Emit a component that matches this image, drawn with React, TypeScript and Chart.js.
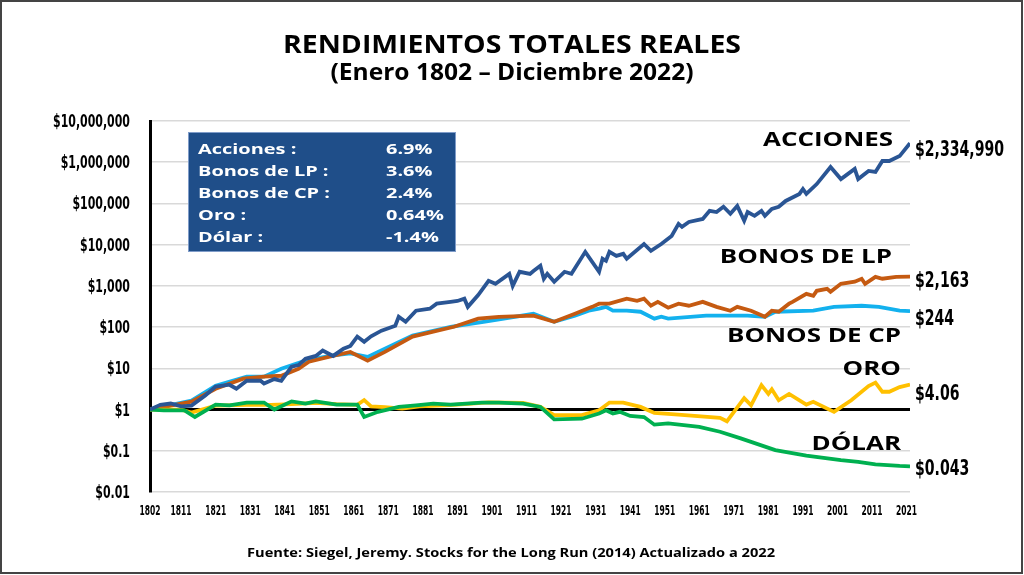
import React, { useEffect, useRef } from "react";
import { Chart, registerables } from "chart.js";

Chart.register(...registerables);

// ---------- DATA ----------
const stockYears = [1802, 1805, 1808, 1811, 1814, 1818, 1821, 1825, 1827, 1830, 1834, 1835, 1838, 1840, 1843, 1845, 1847, 1850, 1852, 1855, 1858, 1860, 1862, 1864, 1866, 1869, 1873, 1874, 1876, 1879, 1883, 1885, 1889, 1891, 1893, 1894, 1897, 1900, 1902, 1906, 1907, 1909, 1912, 1913, 1915, 1916, 1917, 1919, 1922, 1924, 1928, 1932, 1933, 1934, 1935, 1937, 1939, 1940, 1945, 1947, 1950, 1953, 1955, 1956, 1958, 1962, 1964, 1966, 1968, 1970, 1972, 1974, 1975, 1977, 1979, 1980, 1982, 1984, 1986, 1990, 1991, 1992, 1995, 1999, 2002, 2006, 2007, 2010, 2012, 2014, 2016, 2019, 2022];
const stockValues = [1, 1.3, 1.4, 1.2, 1.25, 2.2, 3.6, 4.0, 3.2, 5.0, 5.0, 4.3, 5.5, 5.0, 11, 12, 17, 20, 27, 20, 30, 35, 59, 44, 60, 82, 108, 178, 135, 250, 280, 370, 410, 430, 490, 310, 600, 1330, 1120, 1960, 1000, 2200, 1960, 2300, 3080, 1490, 1960, 1260, 2200, 1960, 6700, 2200, 4550, 4060, 6700, 5350, 6000, 4550, 10400, 7100, 10400, 16300, 31900, 27000, 35600, 42000, 66000, 62000, 83000, 56000, 87000, 38000, 62000, 50000, 66000, 50000, 74000, 83000, 115000, 170000, 224000, 170000, 295000, 764000, 390000, 690000, 390000, 614000, 580000, 1070000, 1070000, 1410000, 2900000];

const longBondYears = [1802, 1808, 1814, 1821, 1829, 1835, 1840, 1845, 1848, 1854, 1860, 1865, 1870, 1878, 1884, 1890, 1897, 1903, 1913, 1919, 1925, 1930, 1932, 1935, 1940, 1943, 1945, 1947, 1949, 1952, 1955, 1958, 1962, 1966, 1970, 1972, 1976, 1980, 1982, 1984, 1987, 1988, 1992, 1994, 1995, 1998, 1999, 2002, 2006, 2008, 2009, 2012, 2014, 2018, 2022];
const longBondValues = [1, 1.25, 1.56, 3.2, 5.6, 6.3, 6.6, 9.8, 14.5, 19.2, 25, 15.4, 25, 59, 78, 102, 160, 178, 190, 135, 210, 310, 370, 370, 490, 436, 490, 330, 410, 295, 370, 330, 410, 310, 250, 310, 250, 178, 250, 236, 370, 410, 640, 575, 760, 850, 720, 1120, 1260, 1490, 1120, 1660, 1490, 1660, 1680];

const shortBondYears = [1802, 1814, 1821, 1830, 1835, 1840, 1847, 1854, 1860, 1865, 1870, 1878, 1889, 1899, 1913, 1919, 1925, 1929, 1932, 1934, 1936, 1940, 1944, 1948, 1950, 1952, 1963, 1975, 1980, 1983, 1994, 2000, 2008, 2013, 2019, 2022];
const shortBondValues = [1, 1.65, 3.8, 6.3, 6.3, 9.8, 15.4, 20, 23, 19, 30, 62, 102, 135, 210, 135, 190, 250, 280, 310, 250, 250, 236, 160, 178, 160, 190, 190, 178, 236, 250, 310, 330, 310, 250, 244];

const goldYears = [1802, 1806, 1811, 1814, 1821, 1830, 1837, 1843, 1850, 1856, 1862, 1864, 1866, 1870, 1875, 1880, 1890, 1900, 1910, 1915, 1919, 1927, 1932, 1935, 1939, 1944, 1948, 1954, 1967, 1969, 1974, 1976, 1979, 1981, 1982, 1984, 1987, 1992, 1994, 2000, 2005, 2010, 2012, 2014, 2016, 2019, 2022];
const goldValues = [1, 1.0, 1.0, 0.85, 1.25, 1.3, 1.3, 1.35, 1.45, 1.35, 1.3, 1.7, 1.2, 1.15, 1.05, 1.2, 1.3, 1.5, 1.45, 1.16, 0.73, 0.73, 0.96, 1.48, 1.48, 1.16, 0.83, 0.76, 0.63, 0.52, 1.9, 1.27, 3.9, 2.4, 3.1, 1.68, 2.4, 1.32, 1.54, 0.88, 1.68, 3.7, 4.5, 2.7, 2.7, 3.5, 4.06];

const dollarYears = [1802, 1806, 1812, 1815, 1821, 1825, 1830, 1835, 1838, 1843, 1847, 1850, 1856, 1862, 1864, 1868, 1874, 1879, 1884, 1889, 1898, 1903, 1910, 1915, 1919, 1927, 1932, 1934, 1936, 1938, 1941, 1945, 1948, 1952, 1961, 1967, 1973, 1983, 1992, 2002, 2007, 2012, 2019, 2022];
const dollarValues = [1, 0.96, 0.96, 0.66, 1.32, 1.27, 1.48, 1.48, 1.0, 1.58, 1.4, 1.58, 1.32, 1.32, 0.66, 0.88, 1.16, 1.27, 1.4, 1.32, 1.48, 1.48, 1.4, 1.16, 0.58, 0.6, 0.8, 0.96, 0.8, 0.88, 0.7, 0.66, 0.43, 0.46, 0.38, 0.29, 0.2, 0.104, 0.076, 0.059, 0.054, 0.047, 0.043, 0.042];

const xTickYears = [1802, 1811, 1821, 1831, 1841, 1851, 1861, 1871, 1881, 1891, 1901, 1911, 1921, 1931, 1941, 1951, 1961, 1971, 1981, 1991, 2001, 2011, 2021];
const yTickValues = [0.01, 0.1, 1, 10, 100, 1000, 10000, 100000, 1000000, 10000000];

const summaryLabels = ["Acciones :", "Bonos de LP :", "Bonos de CP :", "Oro :", "Dólar :"];
const summaryRates = ["6.9%", "3.6%", "2.4%", "0.64%", "-1.4%"];
const seriesNames = ["ACCIONES", "BONOS DE LP", "BONOS DE CP", "ORO", "DÓLAR"];
const endLabels = ["$2,334,990", "$2,163", "$244", "$4.06", "$0.043"];

const titleText = "RENDIMIENTOS TOTALES REALES";
const subtitleText = "(Enero 1802 – Diciembre 2022)";
const sourceText = "Fuente: Siegel, Jeremy. Stocks for the Long Run (2014) Actualizado a 2022";

// ---------- STYLE ----------
const COLORS = {
  stocks: "#2a5594",
  longBond: "#c55a11",
  shortBond: "#13b1ee",
  gold: "#ffc000",
  dollar: "#00b050",
  box: "#1f4e89",
};
const SANS = "'Open Sans', 'Noto Sans', sans-serif";
const NARROW = "'Liberation Sans Narrow', 'DejaVu Sans Condensed', 'Roboto', sans-serif";

const toPoints = (xs: number[], ys: number[]) => xs.map((x, i) => ({ x, y: ys[i] }));

const fmtMoney = (n: number) => (n >= 1 ? "$" + n.toLocaleString("en-US") : "$" + String(n));

function drawScaled(ctx: CanvasRenderingContext2D, text: string, x: number, y: number, s: number, align: CanvasTextAlign) {
  ctx.save();
  ctx.translate(x, y);
  ctx.scale(s, 1);
  ctx.textAlign = align;
  ctx.fillText(text, 0, 0);
  ctx.restore();
}
function scaleFor(ctx: CanvasRenderingContext2D, text: string, width: number) {
  return width / ctx.measureText(text).width;
}

const annotationPlugin = {
  id: "annotations",
  afterDraw(chart: any) {
    const ctx: CanvasRenderingContext2D = chart.ctx;
    const xs = chart.scales.x;
    const ys = chart.scales.y;
    ctx.save();
    ctx.textBaseline = "alphabetic";
    ctx.fillStyle = "#000";

    // Axis tick labels (condensed)
    ctx.font = `bold 18px ${NARROW}`;
    const sY = scaleFor(ctx, "$10,000,000", 77);
    yTickValues.forEach((v) => {
      drawScaled(ctx, fmtMoney(v), 130, ys.getPixelForValue(v) + 6, sY, "right");
    });
    ctx.font = `bold 14px ${NARROW}`;
    const sX = scaleFor(ctx, "1802", 21);
    xTickYears.forEach((v) => {
      drawScaled(ctx, String(v), xs.getPixelForValue(v), 515, sX, "center");
    });

    // Title
    ctx.font = `bold 25px ${SANS}`;
    drawScaled(ctx, titleText, 512, 53, scaleFor(ctx, titleText, 458), "center");
    ctx.font = `bold 24px ${SANS}`;
    drawScaled(ctx, subtitleText, 512, 80, scaleFor(ctx, subtitleText, 363), "center");

    // Summary box
    ctx.fillStyle = COLORS.box;
    ctx.fillRect(188, 132, 268, 120);
    ctx.strokeStyle = "#7f9cc9";
    ctx.lineWidth = 1;
    ctx.strokeRect(188.5, 132.5, 267, 119);
    ctx.fillStyle = "#fff";
    ctx.font = `bold 15px ${SANS}`;
    const sBox = scaleFor(ctx, "Bonos de CP :", 132);
    summaryLabels.forEach((t, i) => {
      drawScaled(ctx, t, 198, 154 + i * 22, sBox, "left");
      drawScaled(ctx, summaryRates[i], 386, 154 + i * 22, sBox, "left");
    });

    // Series names
    ctx.fillStyle = "#000";
    ctx.font = `bold 20px ${SANS}`;
    const sName = scaleFor(ctx, "BONOS DE CP", 174);
    const namePos = [
      [893, 146],
      [892, 263],
      [901, 342],
      [901, 375],
      [901, 450],
    ];
    seriesNames.forEach((t, i) => drawScaled(ctx, t, namePos[i][0], namePos[i][1], sName, "right"));

    // End values
    ctx.font = `bold 21px ${NARROW}`;
    const sVal = scaleFor(ctx, "$2,334,990", 89);
    const valY = [156, 287, 325, 400, 475];
    endLabels.forEach((t, i) => drawScaled(ctx, t, 915, valY[i], sVal, "left"));

    // Source
    ctx.font = `bold 13px ${SANS}`;
    drawScaled(ctx, sourceText, 511, 557, scaleFor(ctx, sourceText, 528), "center");

    // Frame
    ctx.strokeStyle = "#444";
    ctx.lineWidth = 2;
    ctx.strokeRect(1, 1, 1021, 572);
    ctx.restore();
  },
};

export default function App() {
  const canvasRef = useRef<HTMLCanvasElement | null>(null);

  useEffect(() => {
    if (!canvasRef.current) return;
    const mk = (label: string, xs: number[], ys: number[], color: string) => ({
      label,
      data: toPoints(xs, ys),
      borderColor: color,
      backgroundColor: color,
      borderWidth: 3.8,
      pointRadius: 0,
      tension: 0,
      fill: false,
    });
    const chart = new Chart(canvasRef.current, {
      type: "line",
      data: {
        datasets: [
          mk("Acciones", stockYears, stockValues, COLORS.stocks),
          mk("Dólar", dollarYears, dollarValues, COLORS.dollar),
          mk("Oro", goldYears, goldValues, COLORS.gold),
          mk("Bonos de LP", longBondYears, longBondValues, COLORS.longBond),
          mk("Bonos de CP", shortBondYears, shortBondValues, COLORS.shortBond),
        ],
      },
      options: {
        responsive: false,
        animation: false,
        layout: { padding: { left: 0, right: 114, top: 121, bottom: 0 } },
        plugins: {
          legend: { display: false },
          title: { display: false },
          tooltip: { enabled: false },
        },
        scales: {
          x: {
            type: "linear",
            min: 1802,
            max: 2022,
            afterBuildTicks: (scale: any) => {
              scale.ticks = xTickYears.map((v) => ({ value: v }));
            },
            afterFit: (scale: any) => {
              scale.height = 83;
            },
            grid: { display: false, drawTicks: false },
            border: { display: false },
            ticks: { display: false },
          },
          y: {
            type: "logarithmic",
            min: 0.01,
            max: 10000000,
            afterBuildTicks: (scale: any) => {
              scale.ticks = yTickValues.map((v) => ({ value: v }));
            },
            afterFit: (scale: any) => {
              scale.width = 150;
            },
            grid: {
              drawTicks: false,
              color: (c: any) => (c.tick && c.tick.value === 1 ? "#000" : "#d9d9d9"),
              lineWidth: (c: any) => (c.tick && c.tick.value === 1 ? 3 : 1.5),
            },
            border: { display: true, color: "#000", width: 3 },
            ticks: { display: false },
          },
        },
      },
      plugins: [annotationPlugin],
    } as any);
    return () => chart.destroy();
  }, []);

  return (
    <div style={{ position: "fixed", left: 0, top: 0, width: 1024, height: 575, background: "#fff" }}>
      <canvas ref={canvasRef} width={1024} height={575} style={{ display: "block" }} />
    </div>
  );
}
